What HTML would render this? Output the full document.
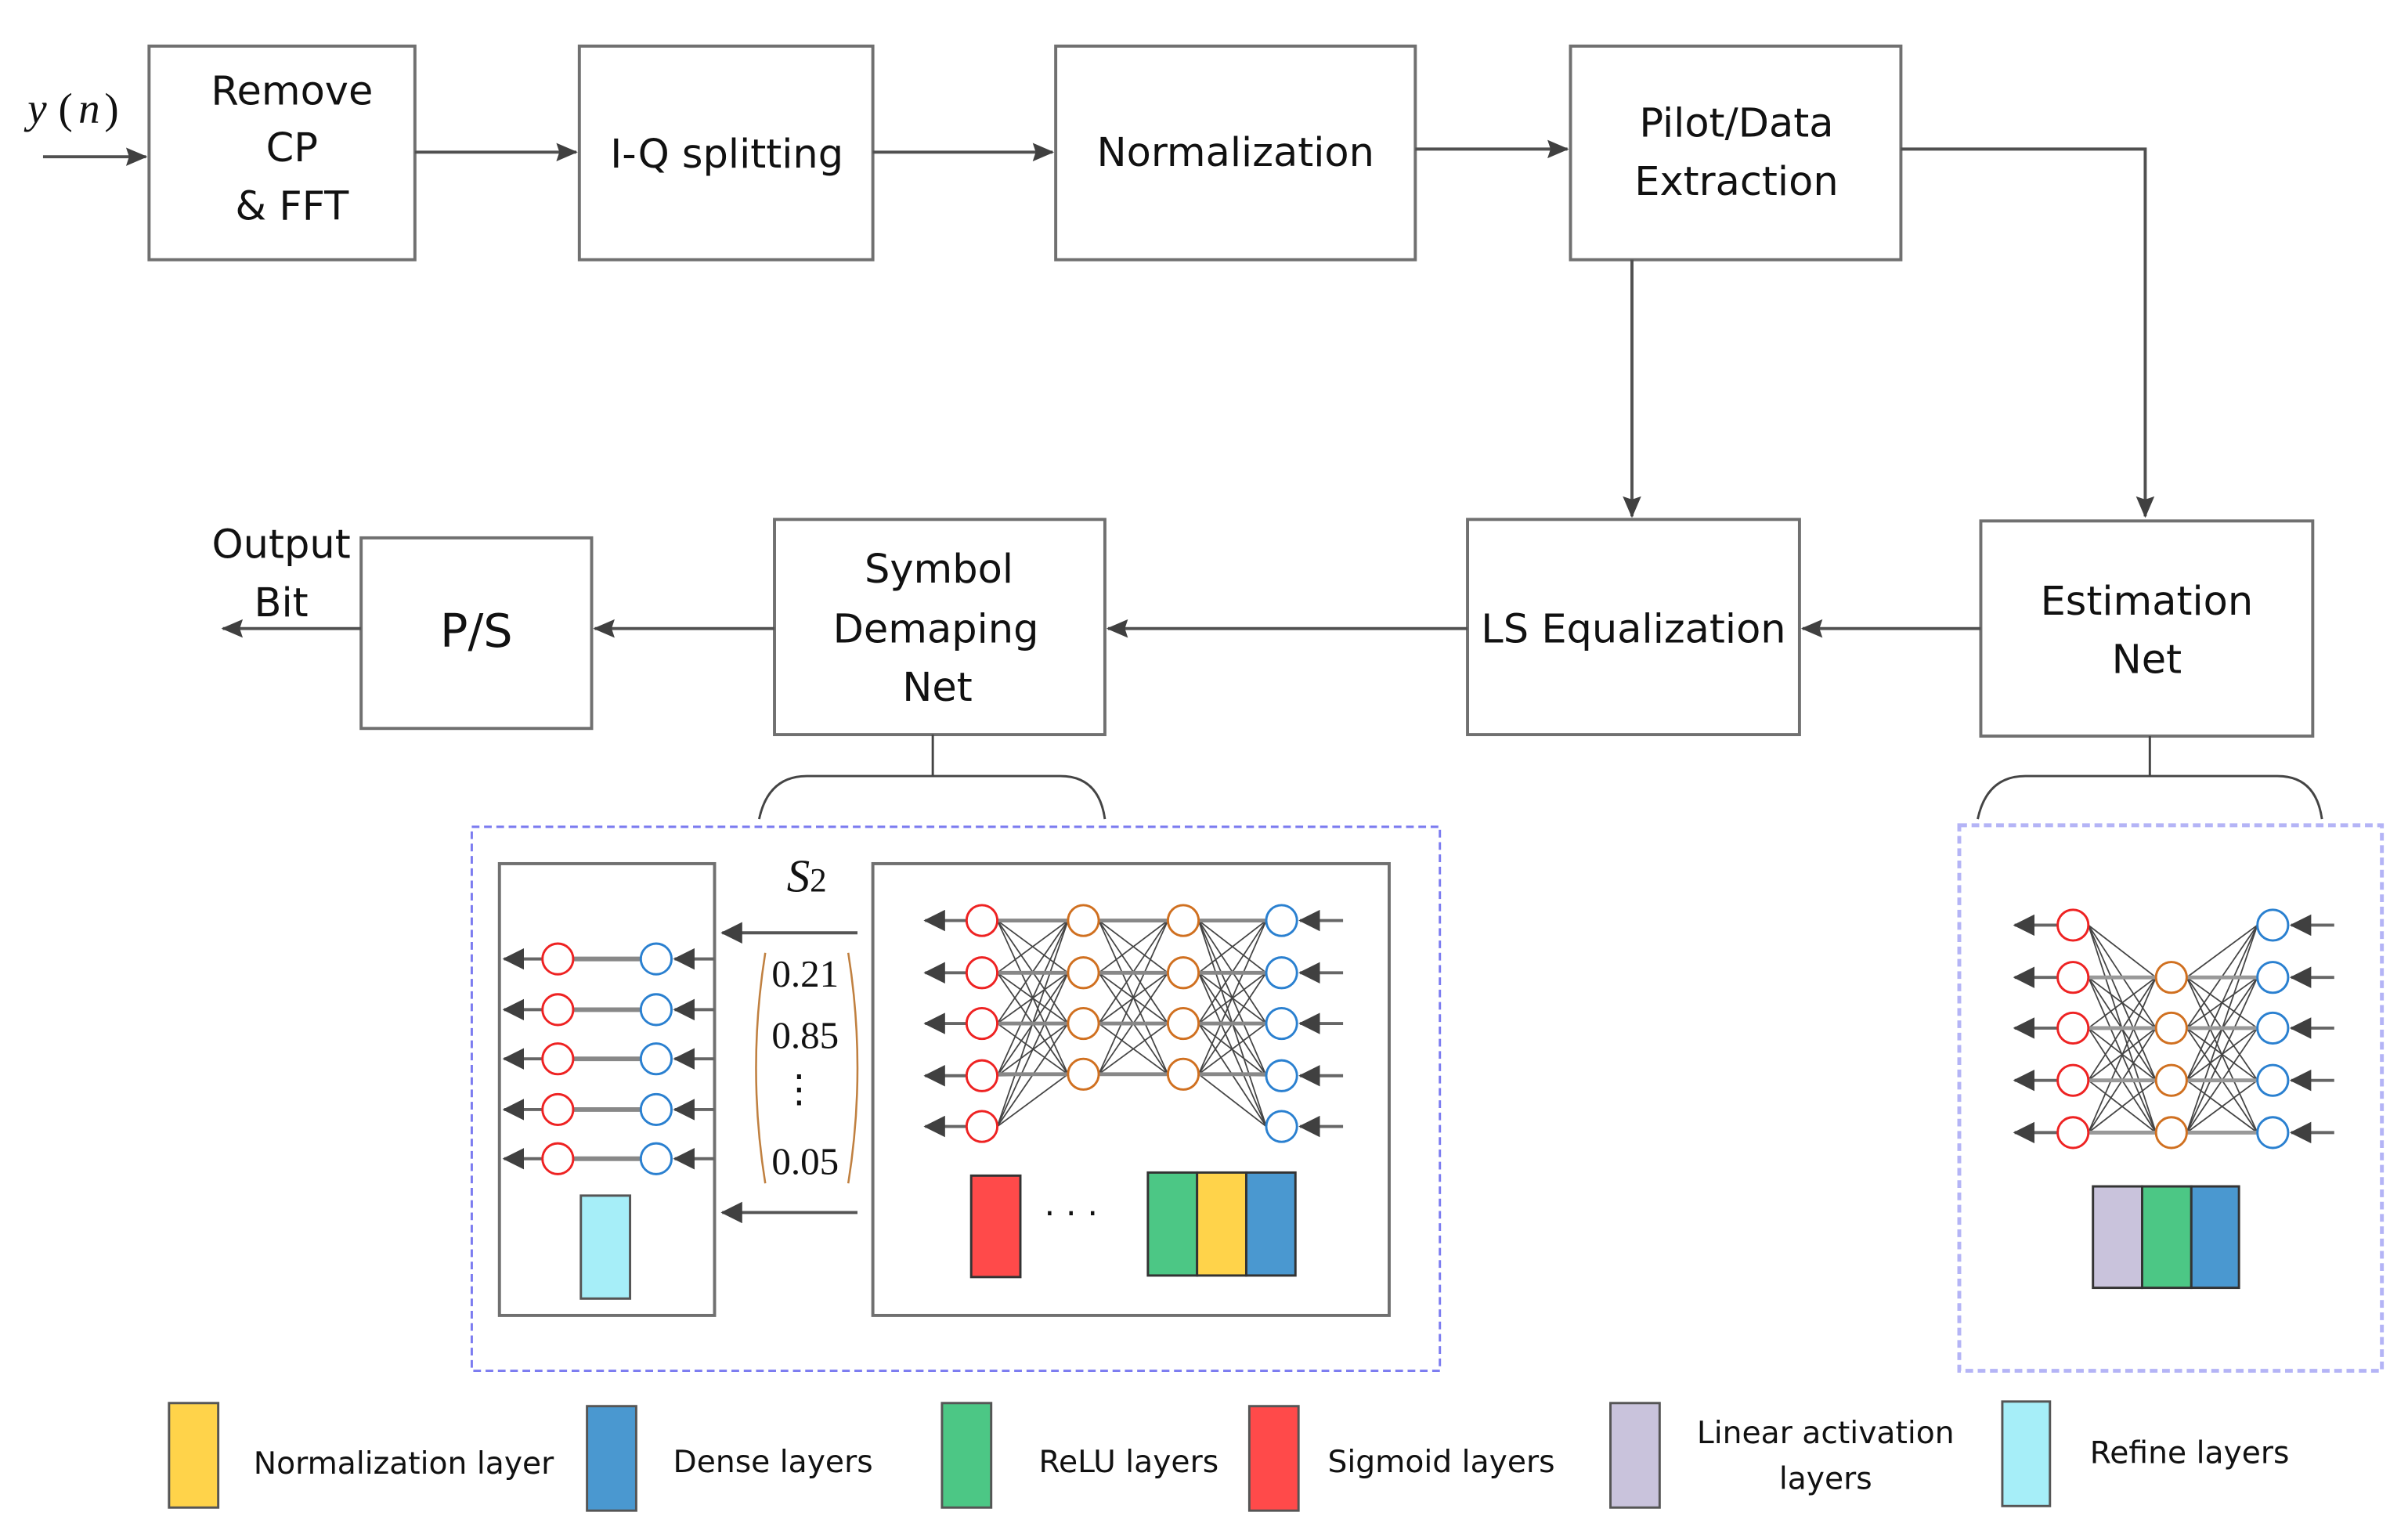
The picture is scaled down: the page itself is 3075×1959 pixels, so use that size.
<!DOCTYPE html>
<html><head><meta charset="utf-8"><style>
html,body{margin:0;padding:0;background:#fff;}
svg{display:block;}
text{font-family:"DejaVu Sans","Liberation Sans",sans-serif;fill:#111;}
text.serif{font-family:"Liberation Serif",serif;}
</style></head><body>
<svg id="s" width="3075" height="1959" viewBox="0 0 1567 998.2" preserveAspectRatio="none" xmlns="http://www.w3.org/2000/svg">
<defs>
<marker id="ah" markerWidth="14" markerHeight="14" refX="13" refY="7" orient="auto" markerUnits="userSpaceOnUse">
<path d="M0,1 L14,7 L0,13 L2,7 Z" fill="#404040"/></marker>
<marker id="ah2" markerWidth="14" markerHeight="14" refX="13" refY="7" orient="auto" markerUnits="userSpaceOnUse">
<path d="M0,0 L14,7 L0,14 Z" fill="#404040"/></marker>
</defs>
<g fill="none" stroke="#707070" stroke-width="2">
<rect x="97" y="30" width="173" height="139"/>
<rect x="377" y="30" width="191" height="139"/>
<rect x="687" y="30" width="234" height="139"/>
<rect x="1022" y="30" width="215" height="139"/>
<rect x="235" y="350" width="150" height="124"/>
<rect x="504" y="338" width="215" height="140"/>
<rect x="955" y="338" width="216" height="140"/>
<rect x="1289" y="339" width="216" height="140"/>
</g>
<g stroke="#505050" stroke-width="2" fill="none" marker-end="url(#ah)">
<line x1="28" y1="102" x2="95" y2="102"/>
<line x1="270" y1="99" x2="375" y2="99"/>
<line x1="568" y1="99" x2="685" y2="99"/>
<line x1="921" y1="97" x2="1020" y2="97"/>
<polyline points="1237,97 1396,97 1396,336"/>
<line x1="1062" y1="169" x2="1062" y2="336"/>
<line x1="1289" y1="409" x2="1173" y2="409"/>
<line x1="955" y1="409" x2="721" y2="409"/>
<line x1="504" y1="409" x2="387" y2="409"/>
<line x1="235" y1="409" x2="145" y2="409"/>
</g>
<g font-size="26" text-anchor="middle">
<text x="190" y="68">Remove</text><text x="190" y="105">CP</text><text x="190" y="143">&amp; FFT</text>
<text x="473" y="109">I-Q splitting</text>
<text x="804" y="108">Normalization</text>
<text x="1130" y="89">Pilot/Data</text><text x="1130" y="127">Extraction</text>
<text x="310" y="421" font-size="30">P/S</text>
<text x="611" y="379">Symbol</text><text x="609" y="418">Demaping</text><text x="610" y="456">Net</text>
<text x="1063" y="418">LS Equalization</text>
<text x="1397" y="400">Estimation</text><text x="1397" y="438">Net</text>
<text x="183" y="363">Output</text><text x="183" y="401">Bit</text>
</g>
<text class="serif" x="18" y="80" font-style="italic" font-size="28">y</text>
<text class="serif" x="38" y="80" font-size="28">(</text>
<text class="serif" x="51" y="80" font-style="italic" font-size="28">n</text>
<text class="serif" x="68" y="80" font-size="28">)</text>
<g fill="none" stroke="#444" stroke-width="1.5">
<line x1="607" y1="478" x2="607" y2="505"/>
<path d="M494,533 Q500,505 525,505 L690,505 Q715,505 719,533"/>
<line x1="1399" y1="479" x2="1399" y2="505"/>
<path d="M1287,533 Q1293,505 1318,505 L1482,505 Q1507,505 1511,533"/>
</g>
<rect x="307" y="538" width="630" height="354" fill="none" stroke="#7b7bf0" stroke-width="1.5" stroke-dasharray="5,3"/>
<rect x="1275" y="537" width="275" height="355" fill="none" stroke="#b4b4f6" stroke-width="2.5" stroke-dasharray="5,3"/>
<g fill="none" stroke="#707070" stroke-width="2">
<rect x="325" y="562" width="140" height="294"/>
<rect x="568" y="562" width="336" height="294"/>
</g>
<g id="nets"></g>
<rect x="378" y="778" width="32" height="67" fill="#a6eef8" stroke="#555" stroke-width="1.5"/>
<text class="serif" x="525" y="580" font-style="italic" font-size="30" text-anchor="middle">S<tspan font-style="normal" font-size="22">2</tspan></text>
<g stroke="#555" stroke-width="2" marker-end="url(#ah2)">
<line x1="558" y1="607" x2="470" y2="607"/><line x1="558" y1="789" x2="470" y2="789"/>
</g>
<path d="M498,620 Q486,695 498,770" fill="none" stroke="#c08040" stroke-width="1.3"/>
<path d="M552,620 Q564,695 552,770" fill="none" stroke="#c08040" stroke-width="1.3"/>
<g font-size="25" text-anchor="middle">
<text class="serif" x="524" y="642">0.21</text><text class="serif" x="524" y="682">0.85</text><text class="serif" x="520" y="717">⋮</text><text class="serif" x="524" y="764">0.05</text>
</g>
<g stroke="#333" stroke-width="1.5">
<rect x="632" y="765" width="32" height="66" fill="#ff4a4a"/>
<rect x="747" y="763" width="32" height="67" fill="#4cc785"/>
<rect x="779" y="763" width="32" height="67" fill="#ffd34a"/>
<rect x="811" y="763" width="32" height="67" fill="#4a98d0"/>
<rect x="1362" y="772" width="32" height="66" fill="#c9c3dc"/>
<rect x="1394" y="772" width="32" height="66" fill="#4cc785"/>
<rect x="1426" y="772" width="31" height="66" fill="#4a98d0"/>
</g>
<text x="697" y="797" font-size="22" text-anchor="middle">· · ·</text>
<g stroke="#555" stroke-width="1.5">
<rect x="110" y="913" width="32" height="68" fill="#ffd34a"/>
<rect x="382" y="915" width="32" height="68" fill="#4a98d0"/>
<rect x="613" y="913" width="32" height="68" fill="#4cc785"/>
<rect x="813" y="915" width="32" height="68" fill="#ff4a4a"/>
<rect x="1048" y="913" width="32" height="68" fill="#c9c3dc"/>
<rect x="1303" y="912" width="31" height="68" fill="#a6eef8"/>
</g>
<g font-size="20">
<text x="165" y="959">Normalization layer</text>
<text x="438" y="958">Dense layers</text>
<text x="676" y="958">ReLU layers</text>
<text x="864" y="958">Sigmoid layers</text>
<text x="1188" y="939" text-anchor="middle">Linear activation</text>
<text x="1188" y="969" text-anchor="middle">layers</text>
<text x="1360" y="952">Refine layers</text>
</g>
</svg>
<script>
(function(){
var g=document.getElementById('nets'),h='';
function L(x1,y1,x2,y2,c,w){h+='<line x1="'+x1+'" y1="'+y1+'" x2="'+x2+'" y2="'+y2+'" stroke="'+c+'" stroke-width="'+w+'"/>';}
function A(x1,y1,x2,y2){h+='<line x1="'+x1+'" y1="'+y1+'" x2="'+x2+'" y2="'+y2+'" stroke="#666" stroke-width="2" marker-end="url(#ah2)"/>';}
function C(x,y,c){h+='<ellipse cx="'+x+'" cy="'+y+'" rx="10" ry="10" fill="#fff" stroke="'+c+'" stroke-width="1.5"/>';}
function full(xa,ya,xb,yb){ya.forEach(function(a){yb.forEach(function(b){L(xa+10,a,xb-10,b,'#444',0.9);});});}
[624,657,689,722,754].forEach(function(y){L(373,y,417,y,'#888',3);A(353,y,328,y);A(465,y,439,y);C(363,y,'#e22');C(427,y,'#2a80d0');});
var r=[599,633,666,700,733],o=[599,633,666,699];
full(639,r,705,o);full(705,o,770,o);full(770,o,834,r);
o.forEach(function(y){L(649,y,695,y,'#888',2.5);L(715,y,760,y,'#888',2.5);L(780,y,824,y,'#888',2.5);});
r.forEach(function(y){A(629,y,602,y);A(874,y,846,y);C(639,y,'#e22');C(834,y,'#2a80d0');});
o.forEach(function(y){C(705,y,'#d07020');C(770,y,'#d07020');});
var e=[602,636,669,703,737],m=[636,669,703,737];
full(1349,e,1413,m);full(1413,m,1479,e);
m.forEach(function(y){L(1359,y,1403,y,'#999',2.5);L(1423,y,1469,y,'#999',2.5);});
e.forEach(function(y){A(1339,y,1311,y);A(1519,y,1491,y);C(1349,y,'#e22');C(1479,y,'#2a80d0');});
m.forEach(function(y){C(1413,y,'#d07020');});
g.innerHTML=h;
})();
</script>
</body></html>
